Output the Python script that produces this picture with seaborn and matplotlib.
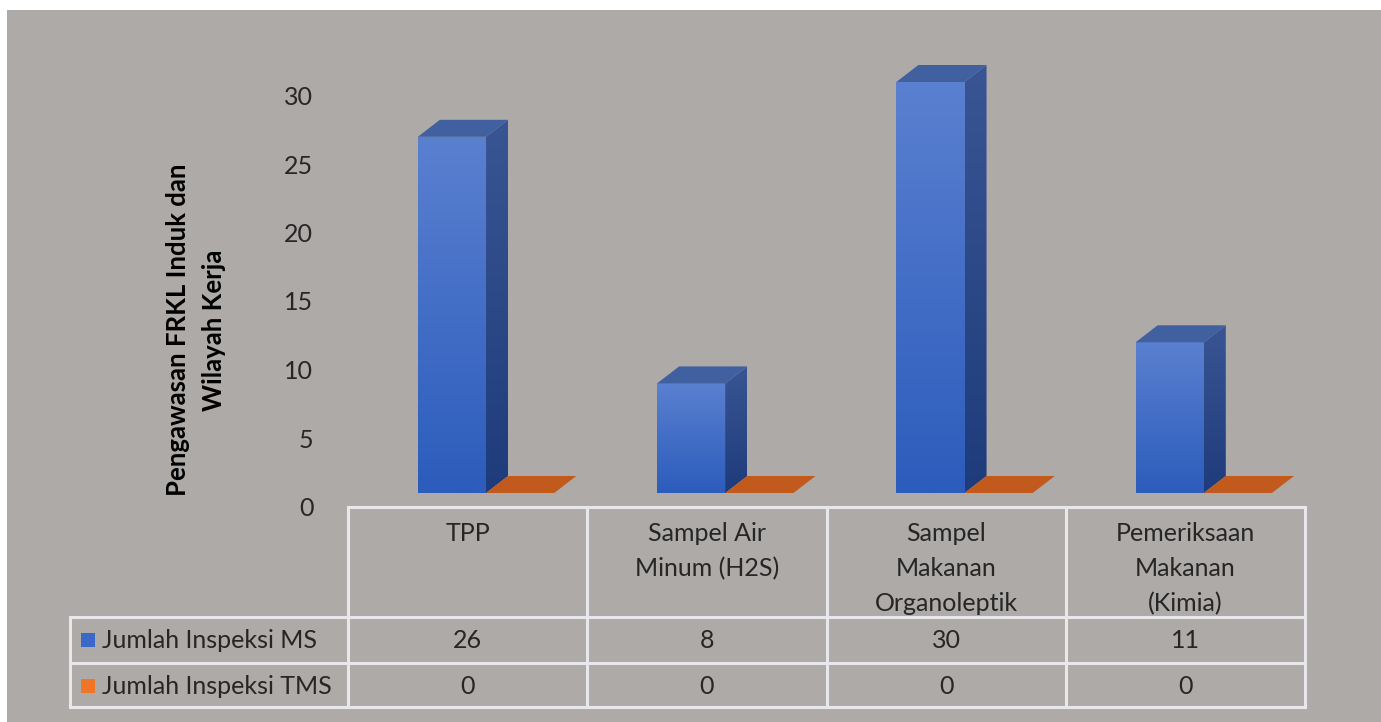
import numpy as np
import pandas as pd
import matplotlib
matplotlib.use("Agg")
import matplotlib.pyplot as plt
import matplotlib.transforms as mtransforms
from matplotlib.patches import Polygon, Rectangle
from matplotlib.colors import LinearSegmentedColormap
import seaborn as sns

# ---- data -------------------------------------------------------------
categories = ["TPP", "Sampel Air\nMinum (H2S)", "Sampel\nMakanan\nOrganoleptik",
              "Pemeriksaan\nMakanan\n(Kimia)"]
series_names = ["Jumlah Inspeksi MS", "Jumlah Inspeksi TMS"]
ms_values = [26, 8, 30, 11]
tms_values = [0, 0, 0, 0]
y_ticks = [0, 5, 10, 15, 20, 25, 30]
y_label = "Pengawasan FRKL Induk dan\nWilayah Kerja"

# ---- styling ------------------------------------------------------------
W, H, DPI = 1381, 722, 100
BG = "#adaaa8"
GRID_LINE = "#e8e8ec"
TEXT = "#262626"
BLUE_LEGEND = "#3b67c9"
ORANGE_LEGEND = "#ef7628"
FONT = "Lato"
FS = 18

sns.set_theme(style="white")
plt.rcParams["font.family"] = [FONT, "DejaVu Sans"]

fig = plt.figure(figsize=(W / DPI, H / DPI), dpi=DPI, facecolor="white")
# pixel transform with origin at top-left
PX = mtransforms.Affine2D().scale(1 / W, -1 / H).translate(0, 1) + fig.transFigure

fig.patches.append(Rectangle((7, 10), W - 7, H - 10, transform=PX,
                             facecolor=BG, edgecolor="none", zorder=-10))

# plot area: y=0 sits on the table top, bars drawn from the data
ax_left, ax_right, ax_bottom, ax_top = 348, 1305, 493, 50
ax = fig.add_axes([ax_left / W, 1 - ax_bottom / H,
                   (ax_right - ax_left) / W, (ax_bottom - ax_top) / H])
ax.set_facecolor("none")
for s in ax.spines.values():
    s.set_visible(False)

df = pd.DataFrame({
    "category": categories * 2,
    "series": [series_names[0]] * 4 + [series_names[1]] * 4,
    "value": ms_values + tms_values,
})
sns.barplot(data=df, x="category", y="value", hue="series",
            palette=["#4470cc", "#c55a1c"], width=0.57, dodge=True,
            saturation=1, linewidth=0, legend=False, ax=ax, zorder=3)

px_per_x = 239.25
px_per_y = 13.7
xlim = (-0.577, 3.423)
ylim = (0, (ax_bottom - ax_top) / px_per_y)
ax.set_xlabel("")
ax.set_ylabel("")
ax.set_xticks([])

# 3-D depth of the boxes
dx = 22 / px_per_x
dy = 17 / px_per_y

front_cmap = LinearSegmentedColormap.from_list("front", ["#2c5cbc", "#5a80d0"])
side_cmap = LinearSegmentedColormap.from_list("side", ["#1e3b7b", "#3a5593"])
grad = np.linspace(0, 1, 256).reshape(-1, 1)

bars = list(ax.patches)
n = len(categories)
for i, bar in enumerate(bars):
    x0, w, h = bar.get_x(), bar.get_width(), bar.get_height()
    if i < n:  # blue boxes
        bar.set_facecolor("none")
        im = ax.imshow(grad, extent=[x0, x0 + w, 0, h], origin="lower",
                       aspect="auto", cmap=front_cmap, zorder=3)
        im.set_clip_path(bar)
        side = Polygon([(x0 + w, 0), (x0 + w + dx, dy), (x0 + w + dx, h + dy),
                        (x0 + w, h)], closed=True, facecolor="none",
                       edgecolor="none", zorder=3)
        ax.add_patch(side)
        im2 = ax.imshow(grad, extent=[x0 + w, x0 + w + dx, 0, h + dy],
                        origin="lower", aspect="auto", cmap=side_cmap, zorder=3)
        im2.set_clip_path(side)
        top = Polygon([(x0, h), (x0 + w, h), (x0 + w + dx, h + dy),
                       (x0 + dx, h + dy)], closed=True, facecolor="#40609f",
                      edgecolor="none", zorder=4)
        ax.add_patch(top)
    else:  # orange boxes (flat top face)
        top = Polygon([(x0, h), (x0 + w, h), (x0 + w + dx, h + dy),
                       (x0 + dx, h + dy)], closed=True, facecolor="#c25a1d",
                      edgecolor="none", zorder=4)
        ax.add_patch(top)

ax.set_xlim(*xlim)
ax.set_ylim(*ylim)

# value axis labels sit on the back wall, slightly below the front scale
ax.set_yticks(y_ticks)
ax.set_yticklabels([str(t) for t in y_ticks])
ax.tick_params(axis="y", length=0, pad=25, labelsize=FS, labelcolor=TEXT)
shift = mtransforms.ScaledTranslation(0, -13.5 / DPI, fig.dpi_scale_trans)
for lab in ax.get_yticklabels():
    lab.set_transform(lab.get_transform() + shift)

fig.text(196 / W, 1 - 330 / H, y_label, rotation=90, ha="center", va="center",
         multialignment="center", fontsize=18.5, fontweight="bold", color="black",
         linespacing=1.55)

# ---- data table under the plot -----------------------------------------
XP = mtransforms.blended_transform_factory(ax.transData, PX)
col_edges = [xlim[0] + i for i in range(n + 1)]
table_top, head_bottom, row_mid, table_bottom = 507, 617, 663, 707
legend_left = 70
lw = 2.2

def hline(y, x0px, x1px):
    fig.add_artist(plt.Line2D([x0px / W, x1px / W], [1 - y / H, 1 - y / H],
                              transform=fig.transFigure, color=GRID_LINE, lw=lw,
                              solid_capstyle="projecting"))

def vline(x, y0px, y1px):
    fig.add_artist(plt.Line2D([x / W, x / W], [1 - y0px / H, 1 - y1px / H],
                              transform=fig.transFigure, color=GRID_LINE, lw=lw,
                              solid_capstyle="projecting"))

edge_px = [ax_left + (e - xlim[0]) * px_per_x for e in col_edges]
hline(table_top, edge_px[0], edge_px[-1])
for y in (head_bottom, row_mid, table_bottom):
    hline(y, legend_left, edge_px[-1])
for xp in edge_px:
    vline(xp, table_top, table_bottom)
vline(legend_left, head_bottom, table_bottom)

for i, cat in enumerate(categories):
    cx = i + xlim[0] + 0.5
    ax.text(cx, 522, cat, transform=XP, ha="center", va="top", fontsize=FS,
            color=TEXT, linespacing=1.62, clip_on=False)
    ax.text(cx, 641, str(ms_values[i]), transform=XP, ha="center", va="center",
            fontsize=FS, color=TEXT, clip_on=False)
    ax.text(cx, 686, str(tms_values[i]), transform=XP, ha="center", va="center",
            fontsize=FS, color=TEXT, clip_on=False)

for name, color, yc in [(series_names[0], BLUE_LEGEND, 640),
                        (series_names[1], ORANGE_LEGEND, 686)]:
    fig.patches.append(Rectangle((81, yc - 7), 14, 14, transform=PX,
                                 facecolor=color, edgecolor="none", zorder=5))
    fig.text(102 / W, 1 - yc / H, name, ha="left", va="center", fontsize=FS,
             color=TEXT)

fig.savefig("out.png", dpi=DPI, facecolor="white")
